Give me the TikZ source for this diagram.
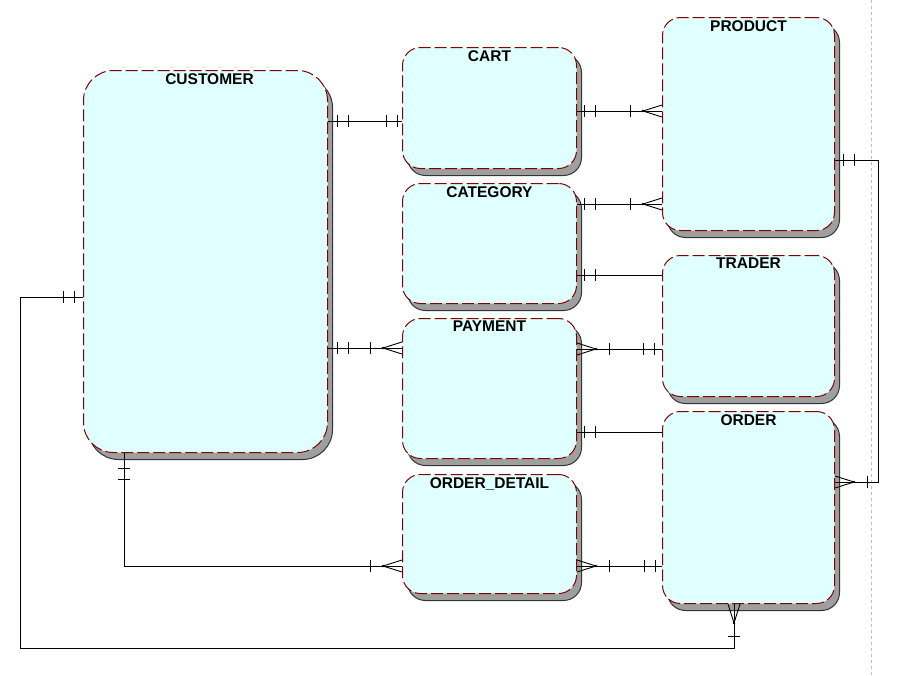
\documentclass[tikz,border=0pt]{standalone}
\usepackage{fontspec}
\setmainfont{Liberation Sans}
\usetikzlibrary{shadows,decorations.markings}
\definecolor{entfill}{HTML}{E0FFFF}
\definecolor{entline}{HTML}{800000}
\tikzset{
    entity/.style={rectangle, rounded corners=18pt, anchor=north west, inner sep=0pt, draw=entline, line width=1pt, dash pattern=on 12pt off 4pt, fill=entfill,
        drop shadow={shadow xshift=5pt, shadow yshift=-7pt, fill=gray!75, draw=black!80, solid, opacity=1}},
    title/.style={anchor=north, inner sep=3pt, font=\bfseries\fontsize{15.5}{17}\selectfont},
    rel/.style={line width=0.9pt, draw=black},
    one start/.style={postaction={decorate, decoration={markings,
        mark=at position #1 with {\draw (0,-6pt) -- (0,6pt);},
        mark=at position #1+11pt with {\draw (0,-6pt) -- (0,6pt);}}}},
    one end/.style={postaction={decorate, decoration={markings,
        mark=at position -#1 with {\draw (0,-6pt) -- (0,6pt);},
        mark=at position -#1-11pt with {\draw (0,-6pt) -- (0,6pt);}}}},
    many start/.style={postaction={decorate, decoration={markings,
        mark=at position 19pt with {\draw (-19pt,6pt) -- (0,0) -- (-19pt,-6pt); \fill (0,0) circle (1.3pt);},
        mark=at position 32pt with {\draw (0,-6pt) -- (0,6pt);}}}},
    many end/.style={postaction={decorate, decoration={markings,
        mark=at position -19pt with {\draw (19pt,6pt) -- (0,0) -- (19pt,-6pt); \fill (0,0) circle (1.3pt);},
        mark=at position -32pt with {\draw (0,-6pt) -- (0,6pt);}}}},
}
\begin{document}
\begin{tikzpicture}
        [x=1pt, y=-1pt]
        \useasboundingbox (0,0) rectangle (904,675);

        % page edge
        \draw[gray!50, line width=1pt, dash pattern=on 3pt off 3pt] (871,0) -- (871,675);

        % Entities
        \node[entity, rounded corners=30pt, minimum width=244pt, minimum height=382pt,
            label={[title, xshift=4pt]north:CUSTOMER}] (customer) at (83,70) {};
        \node[entity, minimum width=174pt, minimum height=121pt,
            label={[title]north:CART}] (cart) at (402,47) {};
        \node[entity, minimum width=172pt, minimum height=213pt,
            label={[title]north:PRODUCT}] (product) at (662,17) {};
        \node[entity, minimum width=174pt, minimum height=120pt,
            label={[title]north:CATEGORY}] (category) at (402,183) {};
        \node[entity, minimum width=172pt, minimum height=141pt,
            label={[title]north:TRADER}] (trader) at (662,255) {};
        \node[entity, minimum width=174pt, minimum height=140pt,
            label={[title]north:PAYMENT}] (payment) at (402,318) {};
        \node[entity, minimum width=172pt, minimum height=192pt,
            label={[title]north:ORDER}] (order) at (662,411) {};
        \node[entity, minimum width=174pt, minimum height=119pt,
            label={[title]north:ORDER\_DETAIL}] (orderdetail) at (402,474) {};

        % Relationships
        \draw[rel, one start=9pt, one end=5pt] (customer.east |- 0,121) -- (cart.west |- 0,121);
        \draw[rel, one start=7pt, many end] (cart.east |- 0,111) -- (product.west |- 0,111);
        \draw[rel, one start=7pt, many end] (category.east |- 0,204) -- (product.west |- 0,204);
        \draw[rel, one start=7pt] (category.east |- 0,275) -- (trader.west |- 0,275);
        \draw[rel, one start=9pt, many end] (customer.east |- 0,348) -- (payment.west |- 0,348);
        \draw[rel, many start, one end=8pt] (payment.east |- 0,349) -- (trader.west |- 0,349);
        \draw[rel, one start=7pt] (payment.east |- 0,432) -- (order.west |- 0,432);
        \draw[rel, many start, one end=7pt] (orderdetail.east |- 0,566) -- (order.west |- 0,566);
        \draw[rel, one start=15pt, many end] (customer.south -| 124,0) |- (orderdetail.west |- 0,566);
        \draw[rel, one start=9pt, many end] (customer.west |- 0,297) -| (20,648) -| (order.south -| 734,0);
        \draw[rel, one start=8pt, many end] (product.east |- 0,160) -| (878,482) -- (order.east |- 0,482);

    \end{tikzpicture}
\end{document}
